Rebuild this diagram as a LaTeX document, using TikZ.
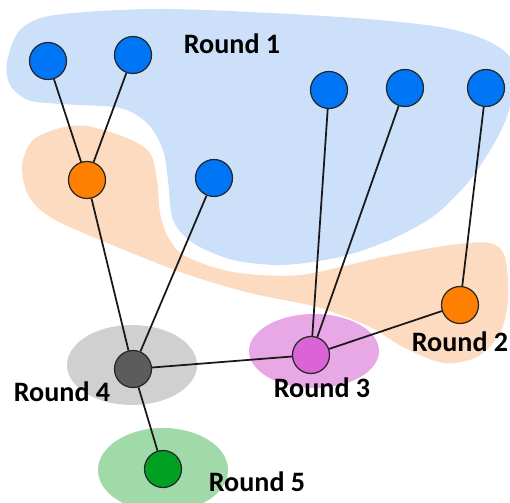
\documentclass[tikz,border=0pt]{standalone}
\usepackage{fontspec}
\setmainfont{Carlito}
\usetikzlibrary{positioning}

\definecolor{bluenode}{RGB}{0,118,246}
\definecolor{blueblob}{RGB}{204,224,250}
\definecolor{orangenode}{RGB}{255,128,0}
\definecolor{orangeblob}{RGB}{252,219,192}
\definecolor{pinknode}{RGB}{218,100,214}
\definecolor{pinkblob}{RGB}{232,168,230}
\definecolor{graynode}{RGB}{92,92,92}
\definecolor{grayblob}{RGB}{208,208,208}
\definecolor{greennode}{RGB}{0,160,34}
\definecolor{greenblob}{RGB}{160,218,168}

\tikzset{
  vertex/.style={circle, draw=black!85, line width=0.7pt, minimum size=0.74cm, inner sep=0pt},
  roundlabel/.style={font=\fontsize{16}{19}\selectfont\bfseries, inner sep=0pt},
  link/.style={line width=1pt, black!90}
}

\begin{document}
\begin{tikzpicture}[x=0.02cm, y=-0.02cm]
			\useasboundingbox (0,0) rectangle (510,503);
			\clip (0,0) rectangle (510,503);
			% round regions
			\fill[blueblob] plot[smooth cycle, tension=0.5] coordinates {
				(7,62) (20,30) (55,15) (167,9) (340,17) (440,27) (490,42) (514,64)
				(509,110) (495,142) (470,180) (435,215) (390,240) (340,257) (283,265)
				(233,260) (193,243) (173,220) (168,180) (163,150) (148,124) (120,108)
				(60,104) (28,100) (10,85)};
			\fill[orangeblob] plot[smooth cycle, tension=0.5] coordinates {
				(22,165) (33,140) (60,128) (87,126) (127,138) (150,153) (157,180)
				(160,213) (168,237) (185,256) (233,272) (300,275) (383,257) (450,245)
				(490,243) (505,257) (508,300) (500,333) (477,357) (443,363) (403,347)
				(370,327) (317,307) (250,293) (183,273) (100,240) (50,217) (28,195)};
			\fill[grayblob] (132,365) ellipse [x radius=65, y radius=40];
			\fill[pinkblob] (314,351) ellipse [x radius=65, y radius=37];
			\fill[greenblob] (163,470) ellipse [x radius=65, y radius=42];

			% vertices
			\foreach \n/\p in {b1/{(48,61)}, b2/{(133,55)}, b3/{(329,90)}, b4/{(405,88)}, b5/{(486,88)}, b6/{(214,178)}} {
				\node[vertex, fill=bluenode] (\n) at \p {};
			}
			\node[vertex, fill=orangenode] (o1) at (87,180) {};
			\node[vertex, fill=orangenode] (o2) at (460,305) {};
			\node[vertex, fill=pinknode] (p1) at (311,355) {};
			\node[vertex, fill=graynode] (g1) at (133,369) {};
			\node[vertex, fill=greennode] (c1) at (163,469) {};

			% links
			\foreach \a/\b in {b1/o1, b2/o1, o1/g1, b6/g1, b3/p1, b4/p1, b5/o2, o2/p1, p1/g1, g1/c1} {
				\draw[link] (\a) -- (\b);
			}

			% labels
			\node[roundlabel] (r1) at (232,44) {Round 1};
			\node[roundlabel] (r2) at (460,342) {Round 2};
			\node[roundlabel] (r3) at (322,388) {Round 3};
			\node[roundlabel] (r4) at (62,392) {Round 4};
			\node[roundlabel] (r5) at (257,482) {Round 5};
		\end{tikzpicture}
\end{document}
